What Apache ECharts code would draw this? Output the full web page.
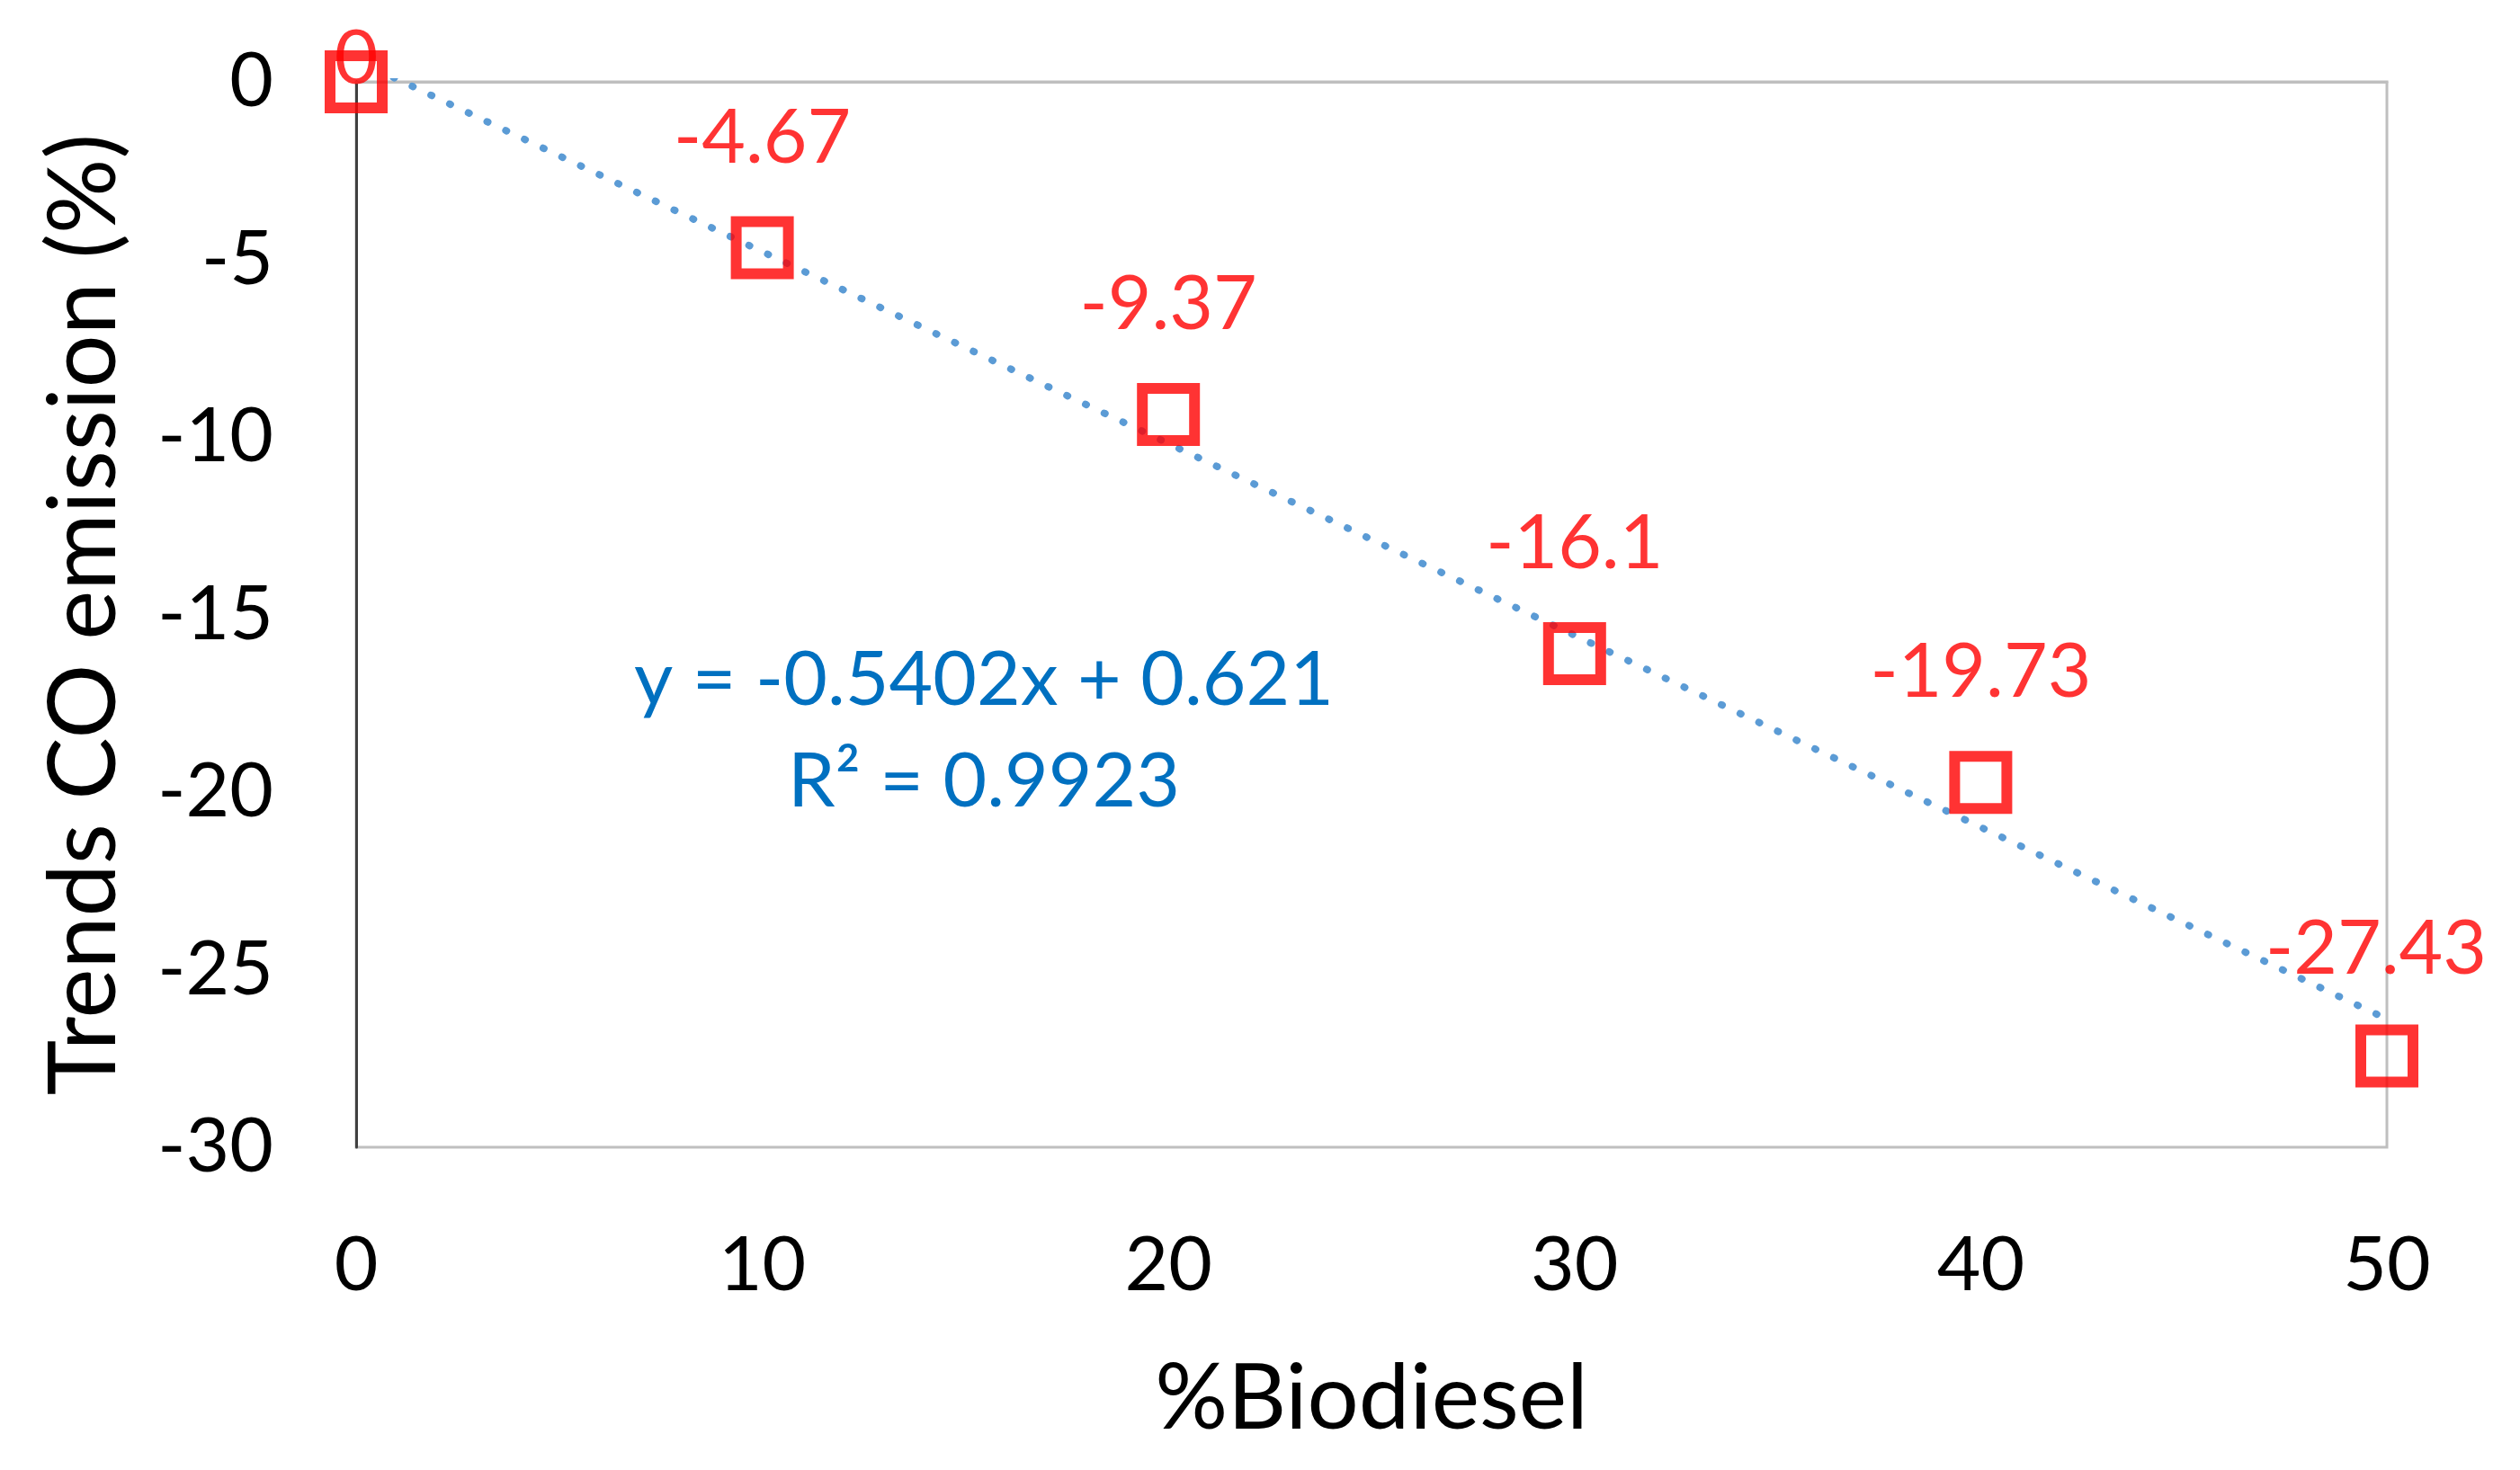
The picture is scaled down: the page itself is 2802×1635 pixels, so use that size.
<!DOCTYPE html>
<html>
<head>
<meta charset="utf-8">
<script src="https://cdn.jsdelivr.net/npm/echarts@6/dist/echarts.min.js"></script>
<style>html,body{margin:0;padding:0;background:#fff}#c{width:2802px;height:1635px}</style>
</head>
<body>
<div id="c"></div>
<script>
// ---- data ----
const biodiesel = [0, 10, 20, 30, 40, 50];
const coTrend = [0, -4.67, -9.37, -16.1, -19.73, -27.43];
const trendX = [0, 50];
const trendY = [0.62, -26.39];
const xTicks = [0, 10, 20, 30, 40, 50];
const yTicks = [-30, -25, -20, -15, -10, -5, 0];
const eqLine1 = 'y = -0.5402x + 0.621';
const eqLine2 = 'R\u00B2 = 0.9923';

const FONT = 'Lato';
const chart = echarts.init(document.getElementById('c'), null, {renderer: 'canvas'});

const pts = biodiesel.map((x, i) => {
  let off = [0, -122];
  if (i === 0) off = [0, -25];
  if (i === biodiesel.length - 1) off = [-12, -119];
  return {value: [x, coTrend[i]], label: {offset: off}};
});

const option = {
  backgroundColor: '#ffffff',
  animation: false,
  grid: {left: 396, right: 148, top: 91, bottom: 359, show: true,
         borderColor: '#BFBFBF', borderWidth: 3, backgroundColor: 'transparent'},
  xAxis: {
    type: 'value', min: xTicks[0], max: xTicks[xTicks.length - 1], interval: 10,
    name: '%Biodiesel', nameLocation: 'middle', nameGap: 230,
    nameTextStyle: {fontFamily: FONT, fontSize: 101, color: '#000'},
    axisLine: {show: true, lineStyle: {color: '#BFBFBF', width: 3}},
    axisTick: {show: false},
    splitLine: {show: false},
    axisLabel: {fontFamily: FONT, fontSize: 84, color: '#000', margin: 90}
  },
  yAxis: {
    type: 'value', min: yTicks[0], max: yTicks[yTicks.length - 1], interval: 5,
    name: 'Trends CO emission (%)', nameLocation: 'middle', nameGap: 250, nameRotate: 90,
    nameTextStyle: {fontFamily: FONT, fontSize: 104, color: '#000'},
    axisLine: {show: true, onZero: false, lineStyle: {color: '#404040', width: 3}},
    axisTick: {show: false},
    splitLine: {show: false},
    axisLabel: {fontFamily: FONT, fontSize: 84, color: '#000', margin: 92}
  },
  series: [
    {
      type: 'line',
      data: trendX.map((x, i) => [x, trendY[i]]),
      showSymbol: false, symbol: 'none',
      lineStyle: {color: '#5B9BD5', width: 8, type: [1, 22], cap: 'round'},
      z: 2, silent: true
    },
    {
      type: 'scatter',
      data: pts,
      symbol: 'rect', symbolSize: 58,
      itemStyle: {color: 'rgba(0,0,0,0)', borderColor: '#FF0000', borderWidth: 12},
      label: {show: true, position: 'inside', color: '#FF0000', fontFamily: FONT, fontSize: 84,
              formatter: p => String(p.value[1])},
      z: 3
    }
  ],
  graphic: [
    {type: 'text', x: 1094, y: 757,
     style: {text: eqLine1, fill: '#0070C0', font: '84px ' + FONT, textAlign: 'center', textVerticalAlign: 'middle'}},
    {type: 'text', x: 1094, y: 870,
     style: {text: eqLine2, fill: '#0070C0', font: '84px ' + FONT, textAlign: 'center', textVerticalAlign: 'middle'}}
  ]
};
chart.setOption(option);
</script>
</body>
</html>
